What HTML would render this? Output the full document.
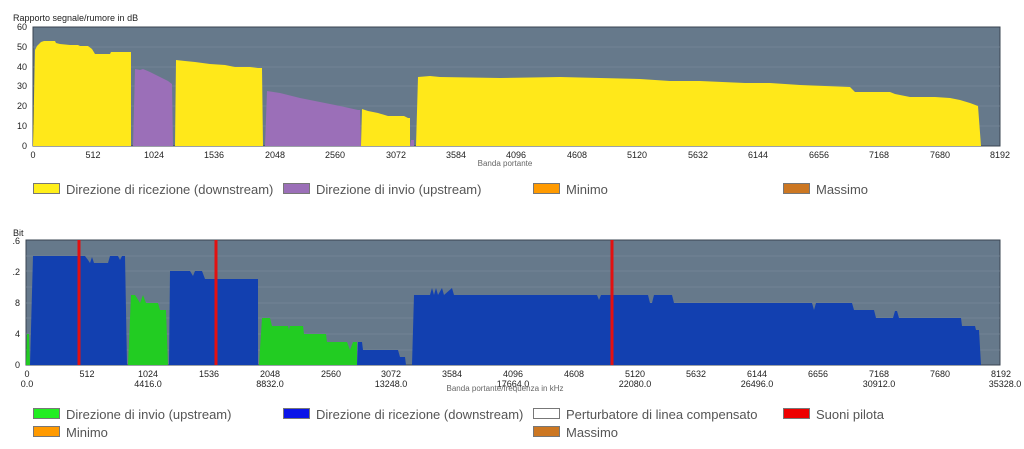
<!DOCTYPE html>
<html><head><meta charset="utf-8"><style>
html,body{margin:0;padding:0;background:#fff;}
svg{display:block;font-family:"Liberation Sans","DejaVu Sans",sans-serif;}
.t{font-size:9px;fill:#222;}
.l{font-size:13px;fill:#555;}
.s{font-size:8px;fill:#666;}
</style></head><body>
<svg width="1024" height="449" viewBox="0 0 1024 449" xmlns="http://www.w3.org/2000/svg">
<!-- TOP CHART -->
<text x="13" y="21" class="t">Rapporto segnale/rumore in dB</text>
<rect x="33" y="27" width="967" height="119" fill="#66798b" stroke="#3a4450" stroke-width="1"/>
<g stroke="#7f90a0" stroke-width="0.6">
<line x1="33" y1="47" x2="1000" y2="47"/><line x1="33" y1="67" x2="1000" y2="67"/>
<line x1="33" y1="86" x2="1000" y2="86"/><line x1="33" y1="106" x2="1000" y2="106"/>
<line x1="33" y1="126" x2="1000" y2="126"/></g>
<polygon fill="#ffe81a" points="33,146 35,50 37,46 41,42 44,41 55,41 56,43 60,44 70,45 78,45 80,46 88,46 92,49 95,54 110,54 111,52 131,52 131,146"/>
<polygon fill="#9b6fb8" points="133,146 135,69 140,70 143,69 150,72 160,77 168,81 172,84 173,146"/>
<polygon fill="#ffe81a" points="175,146 176,60 185,61 195,62 210,64 225,65 235,67 250,67 258,68 262,68 263,146"/>
<polygon fill="#9b6fb8" points="265,146 267,91 280,93 300,98 320,102 340,106 358,110 360,110 361,146"/>
<polygon fill="#ffe81a" points="361,146 362,109 368,111 378,113 388,116 404,116 408,118 410,118 410,146"/>
<polygon fill="#9b6fb8" points="410,146 411,140 414,140 414,146"/>
<polygon fill="#ffe81a" points="416,146 418,77 430,76 440,77 500,78 560,77 600,78 640,79 670,81 700,81 745,83 770,83 800,85 850,87 855,92 890,92 895,94 910,97 935,97 950,98 960,100 970,103 978,106 981,146"/>
<g class="t" text-anchor="end">
<text x="27" y="30">60</text><text x="27" y="50">50</text><text x="27" y="70">40</text>
<text x="27" y="89">30</text><text x="27" y="109">20</text><text x="27" y="129">10</text><text x="27" y="149">0</text></g>
<g class="t" text-anchor="middle">
<text x="33" y="158">0</text><text x="93" y="158">512</text><text x="154" y="158">1024</text>
<text x="214" y="158">1536</text><text x="275" y="158">2048</text><text x="335" y="158">2560</text>
<text x="396" y="158">3072</text><text x="456" y="158">3584</text><text x="516" y="158">4096</text>
<text x="577" y="158">4608</text><text x="637" y="158">5120</text><text x="698" y="158">5632</text>
<text x="758" y="158">6144</text><text x="819" y="158">6656</text><text x="879" y="158">7168</text>
<text x="940" y="158">7680</text><text x="1000" y="158">8192</text></g>
<text x="505" y="166" class="s" text-anchor="middle">Banda portante</text>
<rect x="33.5" y="183.5" width="26" height="10" fill="#ffef1a" stroke="#777"/>
<text x="66" y="194" class="l">Direzione di ricezione (downstream)</text>
<rect x="283.5" y="183.5" width="26" height="10" fill="#9b6fb8" stroke="#777"/>
<text x="316" y="194" class="l">Direzione di invio  (upstream)</text>
<rect x="533.5" y="183.5" width="26" height="10" fill="#ff9a00" stroke="#777"/>
<text x="566" y="194" class="l">Minimo</text>
<rect x="783.5" y="183.5" width="26" height="10" fill="#cc7722" stroke="#777"/>
<text x="816" y="194" class="l">Massimo</text>

<!-- BOTTOM CHART -->
<text x="13" y="236" class="t">Bit</text>
<rect x="26" y="240" width="974" height="125" fill="#66798b" stroke="#3a4450" stroke-width="1"/>
<g stroke="#7f90a0" stroke-width="0.6">
<line x1="26" y1="256" x2="1000" y2="256"/><line x1="26" y1="271" x2="1000" y2="271"/>
<line x1="26" y1="287" x2="1000" y2="287"/><line x1="26" y1="303" x2="1000" y2="303"/>
<line x1="26" y1="318" x2="1000" y2="318"/><line x1="26" y1="334" x2="1000" y2="334"/>
<line x1="26" y1="350" x2="1000" y2="350"/></g>
<polygon fill="#22cc22" points="26,365 27,334 29,334 30,365"/>
<polygon fill="#1240b0" points="30,365 33,256 85,256 88,260 90,263 92,257 94,263 108,263 110,256 118,256 120,260 122,256 125,256 127,365"/>
<polygon fill="#22cc22" points="128,365 131,295 135,295 137,298 140,303 143,295 146,303 158,303 160,310 166,310 168,365"/>
<polygon fill="#1240b0" points="169,365 170,271 190,271 193,276 195,271 202,271 205,279 258,279 258,365"/>
<polygon fill="#22cc22" points="259,365 262,318 270,318 272,326 288,326 289,330 290,326 303,326 304,334 326,334 327,342 347,342 350,350 353,342 357,342 357,365"/>
<polygon fill="#1240b0" points="357,365 358,342 362,342 363,350 398,350 400,357 405,357 406,365"/>
<polygon fill="#1240b0" points="412,365 414,295 430,295 432,288 434,295 436,288 438,295 442,288 444,295 452,288 454,295 597,295 599,300 601,295 648,295 650,303 652,303 654,295 672,295 674,303 812,303 814,310 816,303 852,303 854,310 874,310 876,318 893,318 895,311 897,311 899,318 961,318 962,326 975,326 976,330 979,330 981,365"/>
<rect x="77.5" y="240" width="3" height="125" fill="#e31010"/>
<rect x="214.5" y="240" width="3" height="125" fill="#e31010"/>
<rect x="610.5" y="240" width="3" height="125" fill="#e31010"/>
<g class="t" text-anchor="end">
<text x="20" y="244">.6</text><text x="20" y="275">.2</text><text x="20" y="306">8</text>
<text x="20" y="337">4</text><text x="20" y="368">0</text></g>
<g class="t" text-anchor="middle">
<text x="27" y="377">0</text><text x="87" y="377">512</text><text x="148" y="377">1024</text>
<text x="209" y="377">1536</text><text x="270" y="377">2048</text><text x="331" y="377">2560</text>
<text x="391" y="377">3072</text><text x="452" y="377">3584</text><text x="513" y="377">4096</text>
<text x="574" y="377">4608</text><text x="635" y="377">5120</text><text x="696" y="377">5632</text>
<text x="757" y="377">6144</text><text x="818" y="377">6656</text><text x="879" y="377">7168</text>
<text x="940" y="377">7680</text><text x="1001" y="377">8192</text>
<text x="27" y="387">0.0</text><text x="148" y="387">4416.0</text><text x="270" y="387">8832.0</text>
<text x="391" y="387">13248.0</text><text x="513" y="387">17664.0</text><text x="635" y="387">22080.0</text>
<text x="757" y="387">26496.0</text><text x="879" y="387">30912.0</text><text x="1005" y="387">35328.0</text></g>
<text x="505" y="391" class="s" text-anchor="middle">Banda portante/frequenza in kHz</text>
<rect x="33.5" y="408.5" width="26" height="10" fill="#22ee22" stroke="#777"/>
<text x="66" y="419" class="l">Direzione di invio  (upstream)</text>
<rect x="283.5" y="408.5" width="26" height="10" fill="#0a14e8" stroke="#777"/>
<text x="316" y="419" class="l">Direzione di ricezione (downstream)</text>
<rect x="533.5" y="408.5" width="26" height="10" fill="#fff" stroke="#777"/>
<text x="566" y="419" class="l">Perturbatore di linea compensato</text>
<rect x="783.5" y="408.5" width="26" height="10" fill="#ee0000" stroke="#777"/>
<text x="816" y="419" class="l">Suoni pilota</text>
<rect x="33.5" y="426.5" width="26" height="10" fill="#ff9a00" stroke="#777"/>
<text x="66" y="437" class="l">Minimo</text>
<rect x="533.5" y="426.5" width="26" height="10" fill="#cc7722" stroke="#777"/>
<text x="566" y="437" class="l">Massimo</text>
</svg>
</body></html>
